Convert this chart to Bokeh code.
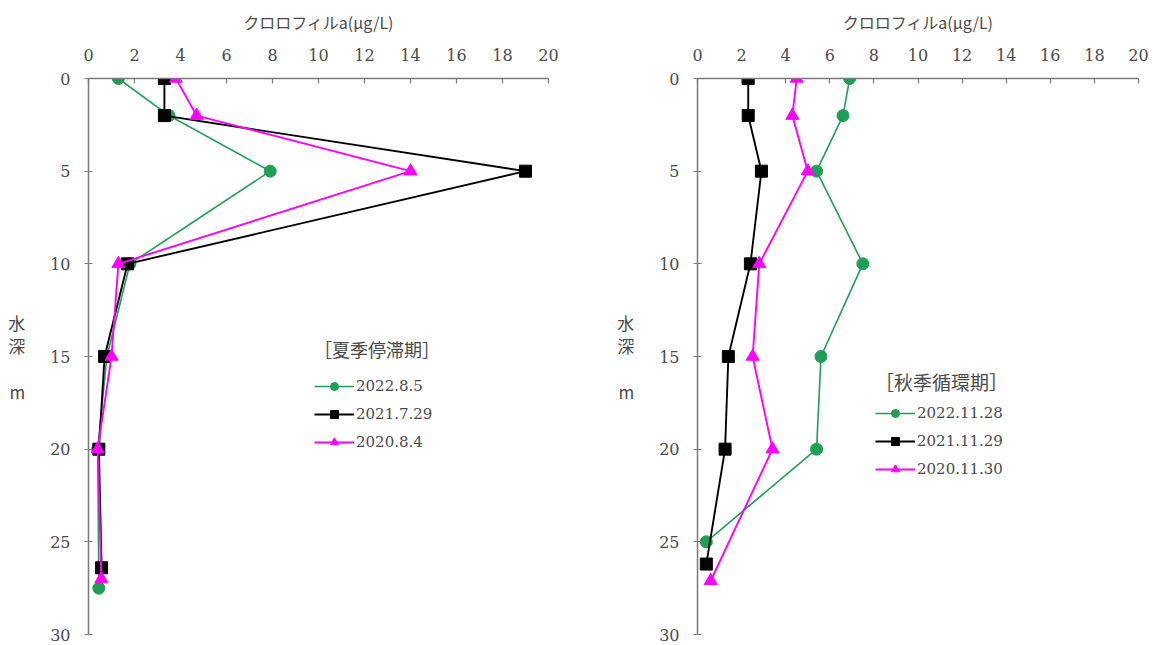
from bokeh.plotting import figure
from bokeh.layouts import row
from bokeh.models import Range1d, FixedTicker, Legend, LegendItem
from bokeh.embed import file_html
from bokeh.resources import INLINE

# ---- data ----
x_ticks = [0, 2, 4, 6, 8, 10, 12, 14, 16, 18, 20]
y_ticks = [0, 5, 10, 15, 20, 25, 30]
x_title = "クロロフィルa(μg/L)"
y_title = "水\n深\n\nm"

summer_title = "［夏季停滞期］"
summer_labels = ["2022.8.5", "2021.7.29", "2020.8.4"]
summer_depth_2022 = [0, 2, 5, 10, 15, 20, 27.5]
summer_chl_2022 = [1.3, 3.5, 7.9, 1.8, 0.8, 0.4, 0.45]
summer_depth_2021 = [0, 2, 5, 10, 15, 20, 26.4]
summer_chl_2021 = [3.3, 3.3, 19.0, 1.7, 0.7, 0.45, 0.57]
summer_depth_2020 = [0, 2, 5, 10, 15, 20, 27.0]
summer_chl_2020 = [3.8, 4.7, 14.0, 1.3, 1.0, 0.4, 0.56]

autumn_title = "［秋季循環期］"
autumn_labels = ["2022.11.28", "2021.11.29", "2020.11.30"]
autumn_depth_2022 = [0, 2, 5, 10, 15, 20, 25]
autumn_chl_2022 = [6.9, 6.6, 5.4, 7.5, 5.6, 5.4, 0.4]
autumn_depth_2021 = [0, 2, 5, 10, 15, 20, 26.2]
autumn_chl_2021 = [2.3, 2.3, 2.9, 2.4, 1.4, 1.25, 0.4]
autumn_depth_2020 = [0, 2, 5, 10, 15, 20, 27.1]
autumn_chl_2020 = [4.5, 4.3, 5.0, 2.8, 2.5, 3.4, 0.6]

colors = ["#1f9e55", "#000000", "#ff00ff"]
markers = ["circle", "square", "triangle"]
marker_sizes = [12, 12, 13]
line_widths = [1.6, 1.9, 1.9]

NUM_FONT = "DejaVu Serif"
JP_FONT = "Noto Sans CJK JP"
TXT = "#4a4a4a"


def make_panel(series, labels, title, width, border_left, legend_loc,
               title_font, title_standoff):
    p = figure(width=width, height=644, output_backend="svg",
               toolbar_location=None, x_axis_location="above",
               x_range=Range1d(0, 20), y_range=Range1d(30, 0),
               min_border_left=border_left, min_border_right=12,
               min_border_top=78, min_border_bottom=10)
    p.outline_line_color = None
    p.xgrid.visible = False
    p.ygrid.visible = False

    for ax in (p.xaxis[0], p.yaxis[0]):
        ax.axis_line_color = "#7a7a7a"
        ax.axis_line_width = 1.5
        ax.major_tick_line_color = "#7a7a7a"
        ax.major_tick_line_width = 1.2
        ax.minor_tick_line_color = None
        ax.major_label_text_font = NUM_FONT
        ax.major_label_text_font_size = "16px"
        ax.major_label_text_color = TXT

    p.xaxis.ticker = FixedTicker(ticks=x_ticks)
    p.xaxis.major_tick_in = 5
    p.xaxis.major_tick_out = 0
    p.xaxis.major_label_standoff = 18
    p.xaxis.axis_label = x_title
    p.xaxis.axis_label_text_font = JP_FONT
    p.xaxis.axis_label_text_font_size = "16px"
    p.xaxis.axis_label_text_font_style = "normal"
    p.xaxis.axis_label_text_color = TXT
    p.xaxis.axis_label_standoff = 12

    p.yaxis.ticker = FixedTicker(ticks=y_ticks)
    p.yaxis.major_tick_in = 4
    p.yaxis.major_tick_out = 4
    p.yaxis.major_label_standoff = 14
    p.yaxis.axis_label = y_title
    p.yaxis.axis_label_orientation = "horizontal"
    p.yaxis.axis_label_text_font = JP_FONT
    p.yaxis.axis_label_text_font_size = "17px"
    p.yaxis.axis_label_text_font_style = "normal"
    p.yaxis.axis_label_text_color = TXT
    p.yaxis.axis_label_text_line_height = 0.92
    p.yaxis.axis_label_standoff = 22

    items = []
    for (xs, ys), c, m, ms, lw, lab in zip(series, colors, markers, marker_sizes,
                                           line_widths, labels):
        r1 = p.line(xs, ys, line_color=c, line_width=lw)
        r2 = p.scatter(xs, ys, marker=m, size=ms, fill_color=c, line_color=c)
        items.append(LegendItem(label=lab, renderers=[r1, r2]))

    leg = Legend(items=items, location=legend_loc, title=title,
                 title_text_font=JP_FONT, title_text_font_size=title_font,
                 title_text_font_style="normal", title_text_color=TXT,
                 title_standoff=title_standoff,
                 label_text_font=NUM_FONT, label_text_font_size="15px",
                 label_text_color=TXT,
                 glyph_width=40, glyph_height=20, label_height=20,
                 label_standoff=2, spacing=8, padding=0, margin=0,
                 border_line_color=None, background_fill_alpha=0)
    p.add_layout(leg, "center")
    return p


left = make_panel(
    [(summer_chl_2022, summer_depth_2022),
     (summer_chl_2021, summer_depth_2021),
     (summer_chl_2020, summer_depth_2020)],
    summer_labels, summer_title, 560, 88, (226, 182), "18px", 14)

right = make_panel(
    [(autumn_chl_2022, autumn_depth_2022),
     (autumn_chl_2021, autumn_depth_2021),
     (autumn_chl_2020, autumn_depth_2020)],
    autumn_labels, autumn_title, 590, 137, (178, 155), "19px", 8)

layout = row(left, right)
open("out.html", "w").write(file_html(layout, INLINE))
